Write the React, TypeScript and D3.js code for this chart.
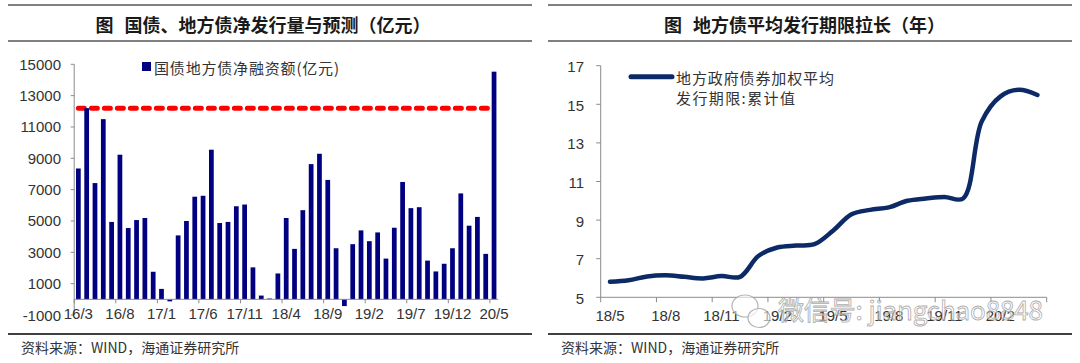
import * as d3 from 'd3';
import React from 'react';

// left panel: monthly net financing of treasury + local gov bonds (100m yuan)
const leftMonths = [
    '16/3', '16/4', '16/5', '16/6', '16/7', '16/8', '16/9', '16/10', '16/11', '16/12',
    '17/1', '17/2', '17/3', '17/4', '17/5', '17/6', '17/7', '17/8', '17/9', '17/10', '17/11', '17/12',
    '18/1', '18/2', '18/3', '18/4', '18/5', '18/6', '18/7', '18/8', '18/9', '18/10', '18/11', '18/12',
    '19/1', '19/2', '19/3', '19/4', '19/5', '19/6', '19/7', '19/8', '19/9', '19/10', '19/11', '19/12',
    '20/1', '20/2', '20/3', '20/4', '20/5',
];
const netFinancing = [
    8350, 12200, 7420, 11500, 4940, 9230, 4550, 5060, 5190, 1760,
    665, -130, 4080, 5000, 6550, 6610, 9550, 4870, 4940, 5940, 6050, 2040,
    240, 50, 1650, 5190, 3220, 5690, 8630, 9290, 7620, 3260, -430, 3520,
    4400, 3710, 4270, 2600, 4570, 7490, 5820, 5880, 2470, 1780, 2270, 3260,
    6760, 4700, 5260, 2900, 14530,
];
const forecastLevel = 12200;
const leftYTicks = [15000, 13000, 11000, 9000, 7000, 5000, 3000, 1000, -1000];
const leftXLabels = ['16/3', '16/8', '17/1', '17/6', '17/11', '18/4', '18/9', '19/2', '19/7', '19/12', '20/5'];

// right panel: weighted average issuance term of local gov bonds (years)
const rightMonths = [
    '18/5', '18/6', '18/7', '18/8', '18/9', '18/10', '18/11', '18/12',
    '19/1', '19/2', '19/3', '19/4', '19/5', '19/6', '19/7', '19/8', '19/9', '19/10', '19/11', '19/12',
    '20/1', '20/2', '20/3', '20/4',
];
const avgTerm = [
    5.8, 5.88, 6.08, 6.14, 6.06, 5.98, 6.1, 6.06,
    7.15, 7.58, 7.68, 7.75, 8.45, 9.3, 9.53, 9.66, 10.0, 10.12, 10.2, 10.12,
    14.1, 15.4, 15.75, 15.48,
];
const rightYTicks = [17, 15, 13, 11, 9, 7, 5];
const rightXLabels = ['18/5', '18/8', '18/11', '19/2', '19/5', '19/8', '19/11', '20/2'];

const CJK = '"Noto Sans CJK SC", sans-serif';
const NUM = '"Liberation Sans", Arial, sans-serif';
const AXIS = '#8c8c8c';
const LABEL = '#333';

const Frame = ({ x0, x1, title, titleX, titleLen }: { x0: number; x1: number; title: string; titleX: number; titleLen: number }) => (
    <g>
        <line x1={x0} x2={x1} y1={5} y2={5} stroke="#808080" strokeWidth={2} />
        <line x1={x0} x2={x1} y1={41} y2={41} stroke="#808080" strokeWidth={2} />
        <text x={titleX} y={24} dominantBaseline="central" fontFamily={CJK} fontSize={18} fontWeight="bold" fill="#1a1a1a">
            图
        </text>
        <text
            x={titleX + 29}
            y={24}
            dominantBaseline="central"
            fontFamily={CJK}
            fontSize={18}
            fontWeight="bold"
            fill="#1a1a1a"
            textLength={titleLen}
        >
            {title}
        </text>
        <line x1={x0} x2={x1} y1={334} y2={334} stroke="#000" strokeWidth={1.3} />
        <text x={x0 + 13} y={347} dominantBaseline="central" fontFamily={CJK} fontSize={14} fill={LABEL}>
            资料来源：WIND，海通证券研究所
        </text>
    </g>
);

const LeftChart = () => {
    const x = d3.scaleBand().domain(leftMonths).range([74.2, 498.2]);
    const y = d3.scaleLinear().domain([-1000, 15000]).range([315, 64.3]);
    const step = x.step();
    const barW = step * 0.57;
    const cx = (m: string) => x(m)! + step / 2;
    const forecast = d3.line<string>().x(cx).y(() => y(forecastLevel));
    const ends = [leftMonths[0], leftMonths[leftMonths.length - 1]];

    return (
        <g>
            <Frame x0={8} x1={532} title="国债、地方债净发行量与预测（亿元）" titleX={95.5} titleLen={306} />
            {/* y axis */}
            <line x1={x.range()[0]} x2={x.range()[0]} y1={y(15000)} y2={y(-1000)} stroke={AXIS} />
            {leftYTicks.map((t) => (
                <g key={t}>
                    <line x1={x.range()[0] - 3.5} x2={x.range()[0]} y1={y(t)} y2={y(t)} stroke={AXIS} />
                    <text x={61} y={y(t)} textAnchor="end" dominantBaseline="central" fontFamily={NUM} fontSize={15} fill={LABEL}>
                        {t}
                    </text>
                </g>
            ))}
            {/* forecast dashed line */}
            <path d={forecast(ends)!} stroke="#ff0000" strokeWidth={5} strokeDasharray="6 7" strokeLinecap="round" fill="none" />
            {leftMonths.map((m, i) => {
                const v = netFinancing[i];
                return (
                    <rect key={m} x={cx(m) - barW / 2} width={barW} y={Math.min(y(v), y(0))} height={Math.abs(y(v) - y(0))} fill="#000080" />
                );
            })}
            {/* x axis at zero */}
            <line x1={x.range()[0]} x2={x.range()[1]} y1={y(0)} y2={y(0)} stroke={AXIS} />
            {leftXLabels.map((m) => (
                <g key={m}>
                    <line x1={x(m)!} x2={x(m)!} y1={y(0)} y2={y(0) + 4} stroke={AXIS} />
                    <text x={cx(m)} y={313} textAnchor="middle" dominantBaseline="central" fontFamily={NUM} fontSize={15} fill={LABEL}>
                        {m}
                    </text>
                </g>
            ))}
            {/* legend */}
            <rect x={142} y={62} width={9} height={9} fill="#000080" />
            <text x={154} y={67} dominantBaseline="central" fontFamily={CJK} fontSize={15} fill={LABEL} textLength={185}>
                国债地方债净融资额(亿元)
            </text>
        </g>
    );
};

const RightChart = () => {
    const x = d3.scaleBand().domain(rightMonths).range([600.7, 1046.7]);
    const y = d3.scaleLinear().domain([5, 17]).range([297.3, 65.7]);
    const step = x.step();
    const cx = (m: string) => x(m)! + step / 2;
    const line = d3
        .line<number>()
        .x((_, i) => cx(rightMonths[i]))
        .y((d) => y(d))
        .curve(d3.curveCatmullRom.alpha(0.5));
    const x0 = x.range()[0];

    return (
        <g>
            <Frame x0={548} x1={1072} title="地方债平均发行期限拉长（年）" titleX={664} titleLen={252} />
            <line x1={x0} x2={x0} y1={y(17)} y2={y(5)} stroke={AXIS} />
            {rightYTicks.map((t) => (
                <g key={t}>
                    <line x1={x0 - 4.5} x2={x0} y1={y(t)} y2={y(t)} stroke={AXIS} />
                    <text x={584} y={y(t) + 1} textAnchor="end" dominantBaseline="central" fontFamily={NUM} fontSize={15} fill={LABEL}>
                        {t}
                    </text>
                </g>
            ))}
            <line x1={x0} x2={x.range()[1]} y1={y(5)} y2={y(5)} stroke={AXIS} />
            {d3.range(0, rightMonths.length + 1, 3).map((i) => {
                const bx = x0 + i * step;
                return <line key={i} x1={bx} x2={bx} y1={y(5)} y2={y(5) + 5} stroke={AXIS} />;
            })}
            {rightXLabels.map((m) => (
                <text key={m} x={cx(m)} y={315} textAnchor="middle" dominantBaseline="central" fontFamily={NUM} fontSize={15} fill={LABEL}>
                    {m}
                </text>
            ))}
            <path d={line(avgTerm)!} stroke="#0c2a66" strokeWidth={4.5} fill="none" strokeLinecap="round" strokeLinejoin="round" />
            {/* legend */}
            <line x1={631} x2={672} y1={76.7} y2={76.7} stroke="#0c2a66" strokeWidth={5} strokeLinecap="round" />
            <text x={676} y={77} dominantBaseline="central" fontFamily={CJK} fontSize={15} fill={LABEL} textLength={158}>
                地方政府债券加权平均
            </text>
            <text x={676} y={97} dominantBaseline="central" fontFamily={CJK} fontSize={15} fill={LABEL} textLength={119}>
                发行期限:累计值
            </text>
        </g>
    );
};

// wechat watermark sitting over the right x axis
const Watermark = () => (
    <g opacity={0.85}>
        <ellipse cx={745} cy={306} rx={13} ry={11} fill="rgba(255,255,255,0.7)" stroke="#aaa" strokeWidth={1.2} />
        <ellipse cx={759} cy={318} rx={11} ry={9.5} fill="rgba(255,255,255,0.7)" stroke="#aaa" strokeWidth={1.2} />
        <text
            x={778}
            y={308}
            dominantBaseline="central"
            fontFamily={CJK}
            fontSize={26}
            textLength={265}
            fill="rgba(255,255,255,0.6)"
            stroke="#a0a0a0"
            strokeWidth={0.8}
        >
            微信号: jiangchao8848
        </text>
    </g>
);

export default function App() {
    return (
        <svg width={1080} height={363} style={{ position: 'absolute', left: 0, top: 0, background: '#fff' }}>
            <rect width={1080} height={363} fill="#fff" />
            <LeftChart />
            <RightChart />
            <Watermark />
        </svg>
    );
}
